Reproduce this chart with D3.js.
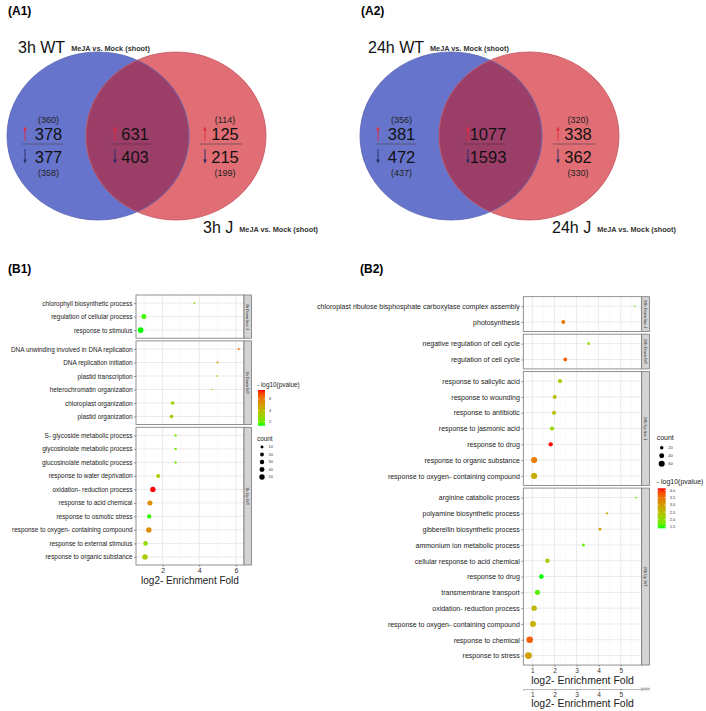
<!DOCTYPE html>
<html>
<head>
<meta charset="utf-8">
<script src="https://cdn.jsdelivr.net/npm/d3@7"></script>
<style>
  body { margin: 0; background: #fff; }
  svg { display: block; font-family: "Liberation Sans", Arial, sans-serif; }
</style>
</head>
<body>
<svg></svg>
<script>
// ---- Venn data (A1, A2) ----
const vennLabels = ['(A1)', '(A2)'];
const vennLeftNames = ['3h WT', '24h WT'];
const vennRightNames = ['3h J', '24h J'];
const vennSubtitle = 'MeJA vs. Mock (shoot)';
const vennUp = [[378, 631, 125], [381, 1077, 338]];
const vennDown = [[377, 403, 215], [472, 1593, 362]];
const vennUpOld = [[360, null, 114], [356, null, 320]];
const vennDownOld = [[358, null, 199], [437, null, 330]];

// ---- GO dot plot B1 ----
const b1Panels = ['3h Down line J', '3h Down WT', '3h Up WT'];
const b1Terms = [
  ['chlorophyll biosynthetic process', 'regulation of cellular process', 'response to stimulus'],
  ['DNA unwinding involved in DNA replication', 'DNA replication initiation', 'plastid transcription',
   'heterochromatin organization', 'chloroplast organization', 'plastid organization'],
  ['S- glycoside metabolic process', 'glycosinolate metabolic process', 'glucosinolate metabolic process',
   'response to water deprivation', 'oxidation- reduction process', 'response to acid chemical',
   'response to osmotic stress', 'response to oxygen- containing compound', 'response to external stimulus',
   'response to organic substance']
];
const b1Fold = [[3.73, 0.98, 0.80], [6.15, 5.0, 4.96, 4.71, 2.55, 2.49],
  [2.71, 2.71, 2.71, 1.76, 1.47, 1.31, 1.27, 1.25, 1.07, 1.04]];
const b1Count = [[2, 42, 58], [2, 3, 1, 1, 18, 19], [5, 5, 5, 23, 50, 42, 30, 50, 34, 50]];
const b1LogP = [[2.6, 1.6, 1.36], [6.6, 5.1, 3.8, 3.2, 3.0, 3.6],
  [2.2, 2.2, 2.2, 3.3, 7.57, 5.4, 1.5, 5.4, 2.8, 3.3]];
const b1Ticks = [2, 4, 6];
const b1PBreaks = [2, 4, 6];
const b1CountBreaks = [10, 20, 30, 40, 50];

// ---- GO dot plot B2 ----
const b2Panels = ['24h Down line J', '24h Down WT', '24h Up line J', '24h Up WT'];
const b2Terms = [
  ['chloroplast ribulose bisphosphate carboxylase complex assembly', 'photosynthesis'],
  ['negative regulation of cell cycle', 'regulation of cell cycle'],
  ['response to salicylic acid', 'response to wounding', 'response to antibiotic', 'response to jasmonic acid',
   'response to drug', 'response to organic substance', 'response to oxygen- containing compound'],
  ['arginine catabolic process', 'polyamine biosynthetic process', 'gibberellin biosynthetic process',
   'ammonium ion metabolic process', 'cellular response to acid chemical', 'response to drug',
   'transmembrane transport', 'oxidation- reduction process', 'response to oxygen- containing compound',
   'response to chemical', 'response to stress']
];
const b2Fold = [[5.63, 2.40], [3.55, 2.49], [2.25, 2.01, 1.98, 1.89, 1.83, 1.08, 1.08],
  [5.69, 4.38, 4.06, 3.31, 1.68, 1.41, 1.23, 1.08, 1.03, 0.88, 0.82]];
const b2Count = [[4, 25], [12, 24], [27, 26, 26, 27, 30, 60, 60],
  [5, 8, 12, 15, 32, 36, 42, 48, 53, 68, 75]];
const b2LogP = [[1.6, 3.4], [2.0, 3.7], [2.3, 2.5, 2.5, 2.1, 4.14, 3.4, 2.8],
  [1.6, 2.7, 3.0, 1.7, 2.3, 1.39, 1.6, 2.6, 2.7, 3.7, 2.9]];
const b2Ticks = [1, 2, 3, 4, 5];
const b2PBreaks = [1.5, 2.0, 2.5, 3.0, 3.5, 4.0];
const b2CountBreaks = [20, 40, 60];

const svg = d3.select('svg')
  .attr('width', 706)
  .attr('height', 711);

svg.append('rect').attr('width', 706).attr('height', 711).attr('fill', '#fff');

// ---------- Venn diagrams ----------
const blockX = [48.5, 135, 225],
      arrowX = [25, 115, 205],
      lineX = [[22, 63], [110, 152], [200, 242]];

function drawVenn(i, ox, leftX, rightX) {
  const g = svg.append('g').attr('transform', `translate(${ox},0)`);

  g.append('text')
    .attr('x', 8).attr('y', 15)
    .attr('font-size', 12).attr('font-weight', 'bold')
    .text(vennLabels[i]);

  const blue = { cx: 98, cy: 136, rx: 91, ry: 84 },
        red = { cx: 176, cy: 136, rx: 90, ry: 84 };

  g.append('clipPath').attr('id', 'clipBlue' + i)
    .append('ellipse')
      .attr('cx', blue.cx).attr('cy', blue.cy).attr('rx', blue.rx).attr('ry', blue.ry);

  g.append('ellipse')
    .attr('cx', blue.cx).attr('cy', blue.cy).attr('rx', blue.rx).attr('ry', blue.ry)
    .attr('fill', '#6675cb');
  g.append('ellipse')
    .attr('cx', red.cx).attr('cy', red.cy).attr('rx', red.rx).attr('ry', red.ry)
    .attr('fill', '#e06e74');
  g.append('ellipse')
    .attr('cx', red.cx).attr('cy', red.cy).attr('rx', red.rx).attr('ry', red.ry)
    .attr('clip-path', `url(#clipBlue${i})`)
    .attr('fill', '#9c3f68');
  g.append('ellipse')
    .attr('cx', blue.cx).attr('cy', blue.cy).attr('rx', blue.rx).attr('ry', blue.ry)
    .attr('fill', 'none').attr('stroke', '#5a64b4').attr('stroke-width', 0.8);
  g.append('ellipse')
    .attr('cx', red.cx).attr('cy', red.cy).attr('rx', red.rx).attr('ry', red.ry)
    .attr('fill', 'none').attr('stroke', '#c4545e').attr('stroke-width', 0.8);

  // names
  const tl = g.append('text').attr('x', leftX).attr('y', 53).attr('fill', '#111');
  tl.append('tspan').attr('font-size', 16).text(vennLeftNames[i]);
  tl.append('tspan').attr('dx', 6).attr('dy', -2).attr('font-size', 7.3)
    .attr('font-weight', 'bold').attr('fill', '#333').text(vennSubtitle);

  const tr = g.append('text').attr('x', rightX).attr('y', 233).attr('fill', '#111');
  tr.append('tspan').attr('font-size', 16).text(vennRightNames[i]);
  tr.append('tspan').attr('dx', 6).attr('dy', -1).attr('font-size', 7.3)
    .attr('font-weight', 'bold').attr('fill', '#333').text(vennSubtitle);

  // number blocks
  vennUp[i].forEach((v, k) => {
    const ax = arrowX[k];
    g.append('line')
      .attr('x1', lineX[k][0]).attr('x2', lineX[k][1])
      .attr('y1', 144).attr('y2', 144)
      .attr('stroke', k === 1 ? '#5a2a40' : '#444').attr('stroke-width', 0.6);

    g.append('text')
      .attr('x', blockX[k]).attr('y', 140)
      .attr('text-anchor', 'middle').attr('font-size', 16.5).attr('fill', '#111')
      .text(v);
    g.append('text')
      .attr('x', blockX[k]).attr('y', 163)
      .attr('text-anchor', 'middle').attr('font-size', 16.5).attr('fill', '#111')
      .text(vennDown[i][k]);

    if (vennUpOld[i][k] !== null) {
      g.append('text')
        .attr('x', blockX[k]).attr('y', 123)
        .attr('text-anchor', 'middle').attr('font-size', 9).attr('fill', '#222')
        .text(`(${vennUpOld[i][k]})`);
      g.append('text')
        .attr('x', blockX[k]).attr('y', 176)
        .attr('text-anchor', 'middle').attr('font-size', 9).attr('fill', '#222')
        .text(`(${vennDownOld[i][k]})`);
    }

    // up arrow
    g.append('line')
      .attr('x1', ax).attr('x2', ax).attr('y1', 141).attr('y2', 129)
      .attr('stroke', '#e2283c').attr('stroke-width', 0.9);
    g.append('path')
      .attr('d', `M${ax - 1.8},${130.5}L${ax},${126.5}L${ax + 1.8},${130.5}Z`)
      .attr('fill', '#e2283c');
    // down arrow
    g.append('line')
      .attr('x1', ax).attr('x2', ax).attr('y1', 149).attr('y2', 161)
      .attr('stroke', '#262a66').attr('stroke-width', 0.9);
    g.append('path')
      .attr('d', `M${ax - 1.8},${159.5}L${ax},${163.5}L${ax + 1.8},${159.5}Z`)
      .attr('fill', '#262a66');
  });
}

drawVenn(0, 0, 18, 203);
drawVenn(1, 353, 15, 199);

svg.append('text').attr('x', 8).attr('y', 273)
  .attr('font-size', 12).attr('font-weight', 'bold').text('(B1)');
svg.append('text').attr('x', 360).attr('y', 273)
  .attr('font-size', 12).attr('font-weight', 'bold').text('(B2)');

// ---------- GO dot plots ----------
function drawDot(c) {
  const x = d3.scaleLinear().domain(c.xDomain).range(c.xRange);
  const step = c.ticks[1] - c.ticks[0];
  const minor = d3.range(c.ticks[0] - step / 2, c.xDomain[1], step)
    .filter(v => v > c.xDomain[0] && v < c.xDomain[1]);
  const [x0, x1] = c.xRange;
  let top = c.top;

  c.panels.forEach((name, i) => {
    const n = c.terms[i].length;
    const h = c.pitch * (n - 1 + 1.2);
    const y = d3.scalePoint().domain(c.terms[i]).range([top, top + h]).padding(0.6);
    const g = svg.append('g');

    g.append('rect')
      .attr('x', x0).attr('y', top).attr('width', x1 - x0).attr('height', h)
      .attr('fill', '#fff');

    g.selectAll('.minor').data(minor).join('line')
      .attr('x1', d => x(d)).attr('x2', d => x(d))
      .attr('y1', top).attr('y2', top + h)
      .attr('stroke', '#f2f2f2').attr('stroke-width', 0.5);
    g.selectAll('.major').data(c.ticks).join('line')
      .attr('x1', d => x(d)).attr('x2', d => x(d))
      .attr('y1', top).attr('y2', top + h)
      .attr('stroke', '#e6e6e6').attr('stroke-width', 0.8);
    g.selectAll('.hgrid').data(c.terms[i]).join('line')
      .attr('x1', x0).attr('x2', x1)
      .attr('y1', d => y(d)).attr('y2', d => y(d))
      .attr('stroke', '#e6e6e6').attr('stroke-width', 0.8);

    g.selectAll('circle').data(c.terms[i]).join('circle')
      .attr('cx', (d, k) => x(c.fold[i][k]))
      .attr('cy', d => y(d))
      .attr('r', (d, k) => c.rScale(c.count[i][k]))
      .attr('fill', (d, k) => c.cScale(c.logp[i][k]));

    g.append('rect')
      .attr('x', x0).attr('y', top).attr('width', x1 - x0).attr('height', h)
      .attr('fill', 'none').attr('stroke', '#777').attr('stroke-width', 0.8);

    // facet strip
    g.append('rect')
      .attr('x', x1).attr('y', top).attr('width', c.stripW).attr('height', h)
      .attr('fill', '#d4d4d4').attr('stroke', '#777').attr('stroke-width', 0.8);
    g.append('text')
      .attr('transform', `translate(${x1 + c.stripW / 2},${top + h / 2}) rotate(90)`)
      .attr('text-anchor', 'middle').attr('dy', '0.35em')
      .attr('font-size', 4).attr('fill', '#333')
      .text(name);

    const ay = g.append('g')
      .attr('transform', `translate(${x0},0)`)
      .call(d3.axisLeft(y).tickSize(2).tickPadding(1.5));
    ay.select('.domain').remove();
    ay.selectAll('line').attr('stroke', '#444').attr('stroke-width', 0.5);
    ay.selectAll('text').attr('font-size', c.labelSize).attr('fill', '#222')
      .attr('font-family', '"Liberation Sans", Arial, sans-serif');

    top += h + c.gap;
  });

  const bottom = top - c.gap;
  const ax = svg.append('g')
    .attr('transform', `translate(0,${bottom})`)
    .call(d3.axisBottom(x).tickValues(c.ticks).tickFormat(d3.format('d')).tickSize(2).tickPadding(1.5));
  ax.select('.domain').remove();
  ax.selectAll('line').attr('stroke', '#444').attr('stroke-width', 0.5);
  ax.selectAll('text').attr('font-size', c.tickSize).attr('fill', '#333')
    .attr('font-family', '"Liberation Sans", Arial, sans-serif');

  svg.append('text')
    .attr('x', (x0 + x1) / 2).attr('y', bottom + 19)
    .attr('text-anchor', 'middle').attr('font-size', c.titleSize).attr('fill', '#222')
    .text('log2- Enrichment Fold');

  return { x, bottom };
}

function drawLegend(c) {
  const g = svg.append('g');
  const id = 'grad' + c.id;
  const grad = g.append('linearGradient').attr('id', id)
    .attr('x1', 0).attr('y1', 1).attr('x2', 0).attr('y2', 0);
  d3.range(0, 1.0001, 0.1).forEach(t => {
    const v = c.cScale.domain()[0] + t * (c.cScale.domain()[1] - c.cScale.domain()[0]);
    grad.append('stop').attr('offset', t).attr('stop-color', c.cScale(v));
  });

  g.append('text').attr('x', c.colorX - 1).attr('y', c.colorTitleY)
    .attr('font-size', c.titleSize).attr('fill', '#222').text('- log10(pvalue)');
  g.append('rect')
    .attr('x', c.colorX).attr('y', c.barTop).attr('width', c.barW).attr('height', c.barH)
    .attr('fill', `url(#${id})`);

  const by = d3.scaleLinear().domain(c.cScale.domain()).range([c.barTop + c.barH, c.barTop]);
  c.pBreaks.forEach(b => {
    g.append('line').attr('x1', c.colorX).attr('x2', c.colorX + 1.5)
      .attr('y1', by(b)).attr('y2', by(b)).attr('stroke', '#fff').attr('stroke-width', 0.5);
    g.append('line').attr('x1', c.colorX + c.barW - 1.5).attr('x2', c.colorX + c.barW)
      .attr('y1', by(b)).attr('y2', by(b)).attr('stroke', '#fff').attr('stroke-width', 0.5);
    g.append('text').attr('x', c.colorX + c.barW + 4).attr('y', by(b)).attr('dy', '0.35em')
      .attr('font-size', 4).attr('fill', '#333').text(c.pFormat(b));
  });

  g.append('text').attr('x', c.colorX - 1).attr('y', c.countTitleY)
    .attr('font-size', c.titleSize).attr('fill', '#222').text('count');
  c.countBreaks.forEach((b, k) => {
    const cy = c.countTop + k * c.countStep;
    g.append('circle').attr('cx', c.countX).attr('cy', cy).attr('r', c.rScale(b)).attr('fill', '#000');
    g.append('text').attr('x', c.countX + 6.5).attr('y', cy).attr('dy', '0.35em')
      .attr('font-size', 4).attr('fill', '#333').text(b);
  });
}

// B1
const b1C = d3.scaleLinear()
  .domain([1.36, 7.57])
  .range(['#00ff00', '#ff0000'])
  .interpolate(d3.interpolateLab);
const b1R = d3.scaleSqrt().domain([0, 60]).range([0.5, 2.9]);

drawDot({
  panels: b1Panels, terms: b1Terms, fold: b1Fold, count: b1Count, logp: b1LogP,
  xDomain: [0.55, 6.44], xRange: [136, 244], top: 295, pitch: 13.5, gap: 2.7, stripW: 7.5,
  ticks: b1Ticks, rScale: b1R, cScale: b1C,
  labelSize: 6.4, tickSize: 7, titleSize: 10
});

drawLegend({
  id: 'b1', cScale: b1C, rScale: b1R, pBreaks: b1PBreaks, countBreaks: b1CountBreaks,
  pFormat: d3.format('d'),
  colorX: 258, colorTitleY: 386.5, barTop: 390, barW: 7, barH: 35.7, titleSize: 6.4,
  countTitleY: 441, countX: 262, countTop: 447, countStep: 7.5
});

// B2
const b2C = d3.scaleLinear()
  .domain([1.39, 4.14])
  .range(['#00ff00', '#ff0000'])
  .interpolate(d3.interpolateLab);
const b2R = d3.scaleSqrt().domain([0, 80]).range([0, 3.5]);

const b2 = drawDot({
  panels: b2Panels, terms: b2Terms, fold: b2Fold, count: b2Count, logp: b2LogP,
  xDomain: [0.59, 5.95], xRange: [523.3, 641.7], top: 296.7, pitch: 15.8, gap: 2.7, stripW: 7.8,
  ticks: b2Ticks, rScale: b2R, cScale: b2C,
  labelSize: 7, tickSize: 6.5, titleSize: 10.5
});

drawLegend({
  id: 'b2', cScale: b2C, rScale: b2R, pBreaks: b2PBreaks, countBreaks: b2CountBreaks,
  pFormat: d3.format('.1f'),
  colorX: 657.7, colorTitleY: 484, barTop: 488.3, barW: 8, barH: 40, titleSize: 7,
  countTitleY: 440, countX: 661.7, countTop: 447.7, countStep: 8
});

// duplicated lower axis under B2
const dupY = 689;
const dup = svg.append('g')
  .attr('transform', `translate(0,${dupY})`)
  .call(d3.axisBottom(b2.x).tickValues(b2Ticks).tickFormat(d3.format('d')).tickSize(2).tickPadding(1.5));
dup.select('.domain').attr('stroke', '#888').attr('stroke-width', 0.6);
dup.selectAll('line').attr('stroke', '#666').attr('stroke-width', 0.5);
dup.selectAll('text').attr('font-size', 6.5).attr('fill', '#333')
  .attr('font-family', '"Liberation Sans", Arial, sans-serif');
svg.append('rect')
  .attr('x', 641.7).attr('y', dupY - 1).attr('width', 7.8).attr('height', 2)
  .attr('fill', '#ccc').attr('stroke', '#888').attr('stroke-width', 0.4);
svg.append('text')
  .attr('x', (523.3 + 641.7) / 2).attr('y', 707)
  .attr('text-anchor', 'middle').attr('font-size', 10.5).attr('fill', '#222')
  .text('log2- Enrichment Fold');
</script>
</body>
</html>
